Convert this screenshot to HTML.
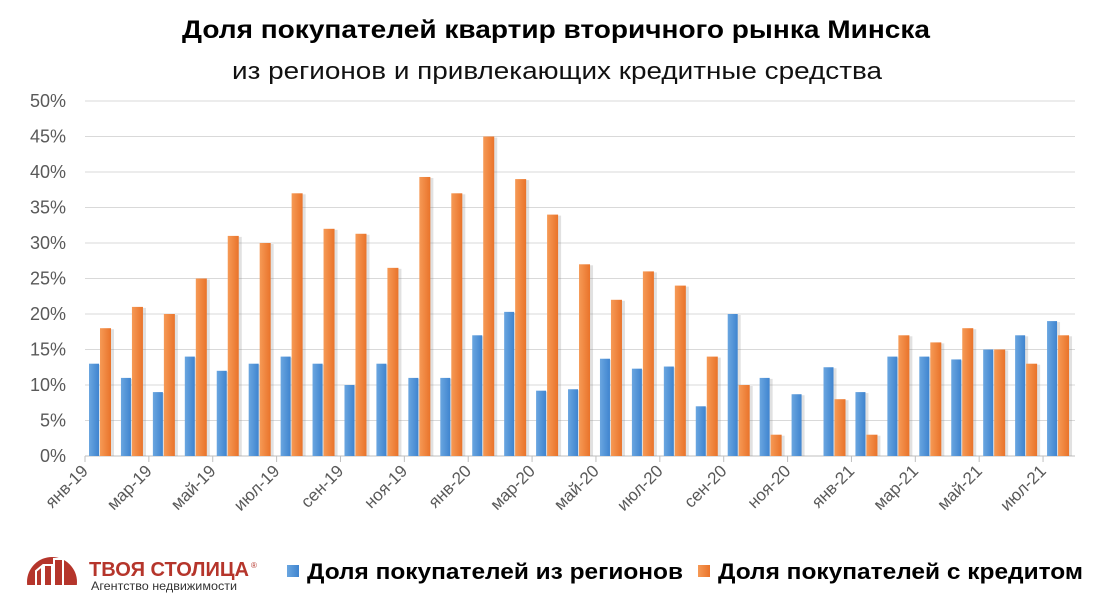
<!DOCTYPE html>
<html><head><meta charset="utf-8"><style>
body{margin:0;background:#fff;width:1100px;height:610px;overflow:hidden;font-family:"Liberation Sans","DejaVu Sans",sans-serif}
</style></head><body>
<svg width="1100" height="610" xmlns="http://www.w3.org/2000/svg" font-family="Liberation Sans, DejaVu Sans, sans-serif">
<defs>
<linearGradient id="gb" x1="0" x2="1"><stop offset="0" stop-color="#6aa6e0"/><stop offset="1" stop-color="#3f84cf"/></linearGradient>
<linearGradient id="go" x1="0" x2="1"><stop offset="0" stop-color="#f69a56"/><stop offset="1" stop-color="#e9732a"/></linearGradient>
</defs>
<text x="182" y="38" textLength="748" lengthAdjust="spacingAndGlyphs" font-size="25" font-weight="bold" fill="#000">Доля покупателей квартир вторичного рынка Минска</text>
<text x="232" y="79" textLength="650" lengthAdjust="spacingAndGlyphs" font-size="24" fill="#111">из регионов и привлекающих кредитные средства</text>
<g id="grid" stroke="#d9d9d9" stroke-width="1"></g>
<g id="ylab" font-size="18" fill="#595959" text-anchor="end"></g>
<g id="bars"></g>
<g id="xlab" font-size="17" fill="#595959"></g>
<circle cx="52" cy="582" r="25" fill="#b5352b"/>
<rect x="20" y="585" width="70" height="25" fill="#fff"/>
<path d="M36 585v-14l6-5v19M44 585v-20h8v20M54 585v-26h9v26" stroke="#fff" stroke-width="2" fill="none"/>
<text x="89" y="576" textLength="160" lengthAdjust="spacingAndGlyphs" font-size="20" font-weight="bold" fill="#b5352b">ТВОЯ СТОЛИЦА</text>
<text x="251" y="568" font-size="8" fill="#b5352b">®</text>
<text x="91" y="590" textLength="146" lengthAdjust="spacingAndGlyphs" font-size="12" fill="#333">Агентство недвижимости</text>
<rect x="287" y="565" width="12" height="12" fill="url(#gb)"/>
<text x="307" y="579" textLength="376" lengthAdjust="spacingAndGlyphs" font-size="22" font-weight="bold" fill="#000">Доля покупателей из регионов</text>
<rect x="698" y="565" width="12" height="12" fill="url(#go)"/>
<text x="718" y="579" textLength="365" lengthAdjust="spacingAndGlyphs" font-size="22" font-weight="bold" fill="#000">Доля покупателей с кредитом</text>
</svg>
<script>
const B=[13,11,9,14,12,13,14,13,10,13,11,11,17,20.3,9.2,9.4,13.7,12.3,12.6,7,20,11,8.7,12.5,9,14,14,13.6,15,17,19];
const O=[18,21,20,25,31,30,37,32,31.3,26.5,39.3,37,45,39,34,27,22,26,24,14,10,3,0,8,3,17,16,18,15,13,17];
const L=["янв-19","мар-19","май-19","июл-19","сен-19","ноя-19","янв-20","мар-20","май-20","июл-20","сен-20","ноя-20","янв-21","мар-21","май-21","июл-21"];
const ns="http://www.w3.org/2000/svg";
function el(p,t,a,txt){const e=document.createElementNS(ns,t);for(const k in a)e.setAttribute(k,a[k]);if(txt)e.textContent=txt;document.getElementById(p).appendChild(e);}
const y0=456,s=7.1,x0=85,cw=31.935;
for(let i=0;i<=10;i++){const y=y0-i*5*s;el("grid","line",{x1:x0,x2:1075,y1:y,y2:y});el("ylab","text",{x:66,y:y+6},(i*5)+"%");}
el("grid","line",{x1:x0,x2:1075,y1:y0,y2:y0,stroke:"#bfbfbf"});
for(let i=0;i<16;i++){const x=x0+i*2*cw;el("grid","line",{x1:x,x2:x,y1:y0,y2:y0+6,stroke:"#bfbfbf"});
el("xlab","text",{x:x+4,y:472,"text-anchor":"end",transform:`rotate(-45 ${x+4} 472)`},L[i]);}
for(let c=0;c<31;c++){const l=x0+c*cw;
const hb=B[c]*s,ho=O[c]*s;
el("bars","rect",{x:l+7,y:y0-hb+1,width:10,height:hb-1,fill:"#888",opacity:0.25});
el("bars","rect",{x:l+4,y:y0-hb,width:10,height:hb,fill:"url(#gb)"});
if(ho>0){el("bars","rect",{x:l+18,y:y0-ho+1,width:11,height:ho-1,fill:"#888",opacity:0.25});
el("bars","rect",{x:l+15,y:y0-ho,width:11,height:ho,fill:"url(#go)"});}}
</script>
</body></html>
